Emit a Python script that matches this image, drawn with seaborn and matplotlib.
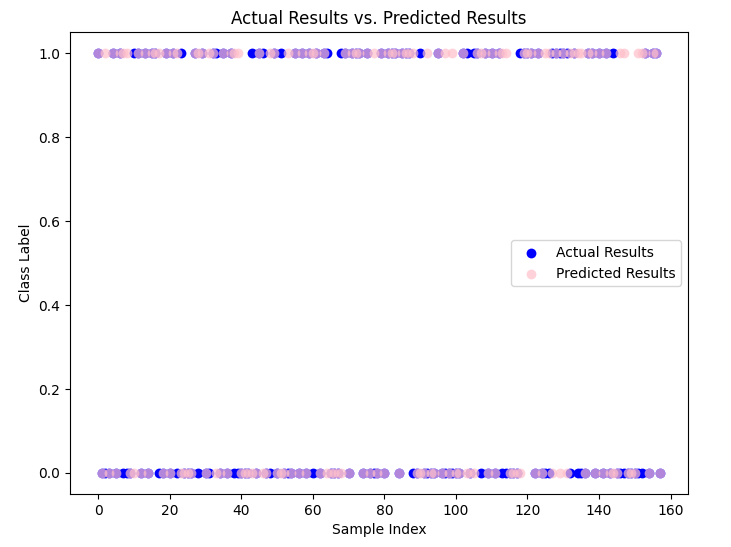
import matplotlib
matplotlib.use("Agg")
import matplotlib.pyplot as plt
import seaborn as sns
import numpy as np

# Class labels, one per test sample (index 0..157)
actual = [
    1, 0, 0, 0, 1, 0, 1, 0, 0, 0,
    1, 1, 0, 1, 0, 1, 1, 0, 0, 1,
    0, 1, 0, 1, 0, 0, 0, 1, 0, 1,
    0, 0, 1, 1, 0, 1, 0, 1, 0, 0,
    0, 0, 0, 1, 0, 1, 1, 0, 0, 1,
    0, 1, 0, 0, 0, 1, 0, 1, 0, 1,
    0, 1, 0, 1, 1, 0, 0, 0, 1, 1,
    0, 1, 1, 1, 0, 1, 0, 0, 0, 1,
    0, 1, 1, 1, 0, 1, 1, 1, 0, 0,
    1, 0, 0, 0, 0, 1, 0, 0, 0, 0,
    0, 0, 1, 1, 0, 1, 1, 0, 1, 0,
    1, 0, 1, 0, 0, 0, 0, 0, 1, 1,
    1, 1, 0, 1, 0, 0, 0, 1, 1, 1,
    1, 1, 0, 1, 0, 0, 0, 1, 1, 0,
    1, 0, 1, 0, 1, 0, 0, 0, 0, 0,
    0, 0, 0, 1, 0, 1, 1, 0,
]
predicted = [
    1, 0, 1, 0, 1, 0, 1, 1, 1, 0,
    0, 1, 0, 1, 0, 1, 1, 1, 0, 1,
    0, 1, 1, 0, 0, 0, 0, 1, 1, 1,
    0, 1, 1, 0, 0, 1, 0, 1, 1, 1,
    0, 0, 0, 0, 0, 1, 0, 0, 1, 1,
    0, 0, 0, 1, 0, 1, 0, 1, 0, 1,
    1, 1, 0, 1, 0, 0, 0, 0, 0, 1,
    0, 1, 1, 1, 0, 1, 0, 1, 0, 1,
    0, 1, 1, 1, 0, 1, 1, 1, 1, 0,
    0, 0, 1, 0, 0, 1, 0, 1, 0, 1,
    0, 0, 1, 0, 0, 0, 1, 1, 1, 0,
    1, 0, 1, 1, 1, 0, 0, 0, 0, 1,
    1, 1, 0, 1, 0, 1, 1, 0, 1, 0,
    1, 0, 1, 1, 1, 1, 0, 1, 1, 0,
    1, 0, 1, 0, 0, 0, 1, 1, 0, 0,
    0, 1, 1, 1, 0, 1, 1, 0,
]
sample_index = np.arange(len(actual))

fig, ax = plt.subplots(figsize=(7.31, 5.47), dpi=100)
sns.scatterplot(x=sample_index, y=actual, color="blue", s=50, linewidth=0,
                label="Actual Results", ax=ax)
sns.scatterplot(x=sample_index, y=predicted, color="pink", alpha=0.7, s=50,
                linewidth=0, label="Predicted Results", ax=ax)

ax.set_title("Actual Results vs. Predicted Results")
ax.set_xlabel("Sample Index")
ax.set_ylabel("Class Label")
ax.legend(loc="center right")

fig.subplots_adjust(left=0.096, right=0.941, bottom=0.097, top=0.941)
fig.savefig("out.png")
